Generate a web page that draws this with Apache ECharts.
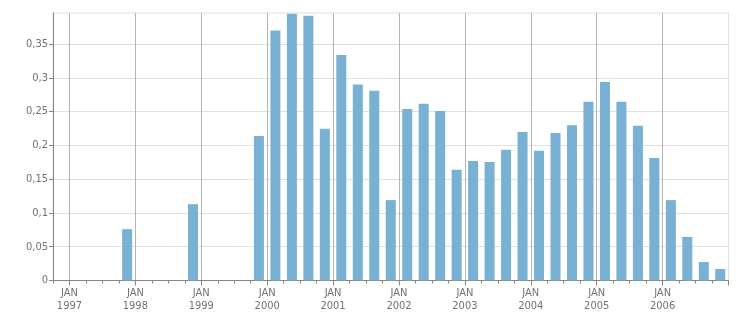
<!DOCTYPE html>
<html>
<head>
<meta charset="utf-8">
<script src="https://cdn.jsdelivr.net/npm/echarts@6/dist/echarts.min.js"></script>
<style>
html,body{margin:0;padding:0;background:#fff;}
#chart{width:751px;height:313px;}
</style>
</head>
<body>
<div id="chart"></div>
<script>
var quarters = [
  '1996-Q4',
  '1997-Q1','1997-Q2','1997-Q3','1997-Q4',
  '1998-Q1','1998-Q2','1998-Q3','1998-Q4',
  '1999-Q1','1999-Q2','1999-Q3','1999-Q4',
  '2000-Q1','2000-Q2','2000-Q3','2000-Q4',
  '2001-Q1','2001-Q2','2001-Q3','2001-Q4',
  '2002-Q1','2002-Q2','2002-Q3','2002-Q4',
  '2003-Q1','2003-Q2','2003-Q3','2003-Q4',
  '2004-Q1','2004-Q2','2004-Q3','2004-Q4',
  '2005-Q1','2005-Q2','2005-Q3','2005-Q4',
  '2006-Q1','2006-Q2','2006-Q3','2006-Q4'
];
var values = [
  0,
  0, 0, 0, 0.076,
  0, 0, 0, 0.113,
  0, 0, 0, 0.214,
  0.370, 0.395, 0.392, 0.2245,
  0.334, 0.290, 0.281, 0.119,
  0.254, 0.2615, 0.251, 0.164,
  0.177, 0.1756, 0.1934, 0.220,
  0.192, 0.2185, 0.230, 0.2645,
  0.294, 0.2645, 0.229, 0.1815,
  0.119, 0.0645, 0.0274, 0.017
];
var yTicks = [0, 0.05, 0.1, 0.15, 0.2, 0.25, 0.3, 0.35];
var yMax = 0.396;

var FONT = '"DejaVu Sans Condensed", "Liberation Sans", sans-serif';
function isJan(idx) { return /Q1$/.test(quarters[idx] || ''); }
var nYears = quarters.filter(function (q) { return /Q1$/.test(q); }).length;
var yearLineColors = [];
for (var i = 0; i < nYears; i++) yearLineColors.push('#b4b4b4');
yearLineColors.push('#e0e0e0');

var chart = echarts.init(document.getElementById('chart'), null, {renderer: 'canvas'});
chart.setOption({
  animation: false,
  grid: {left: 53, top: 13, right: 22.5, bottom: 32.5, show: true, borderColor: '#e0e0e0', borderWidth: 1, backgroundColor: 'transparent'},
  xAxis: [{
    type: 'category',
    data: quarters,
    position: 'bottom',
    boundaryGap: true,
    axisLine: {show: true, lineStyle: {color: '#858585', width: 1}},
    axisTick: {show: true, interval: 0, length: 3, lineStyle: {color: '#858585'}},
    splitLine: {show: false},
    axisLabel: {
      interval: function (idx) { return isJan(idx); },
      formatter: function (v) { return 'JAN\n' + v.slice(0, 4); },
      color: '#746f78',
      fontFamily: FONT,
      fontSize: 11,
      lineHeight: 13,
      margin: 6,
      padding: [0, 16.5, 0, 0]
    }
  }, {
    type: 'category',
    data: quarters,
    position: 'bottom',
    boundaryGap: true,
    axisLine: {show: false},
    axisTick: {show: true, interval: function (idx) { return isJan(idx); }, length: 5, lineStyle: {color: '#858585'}},
    splitLine: {show: true, interval: function (idx) { return isJan(idx); }, lineStyle: {color: yearLineColors, width: 1}},
    axisLabel: {show: false}
  }],
  yAxis: {
    type: 'value',
    min: 0,
    max: yMax,
    axisLine: {show: true, lineStyle: {color: '#858585', width: 1}},
    axisTick: {show: true, length: 4, customValues: yTicks, lineStyle: {color: '#858585'}},
    splitLine: {show: true, lineStyle: {color: '#e0e0e0', width: 1}},
    axisLabel: {
      customValues: yTicks,
      color: '#746f78',
      fontFamily: FONT,
      fontSize: 11,
      margin: 5,
      formatter: function (v) { return String(v).replace('.', ','); }
    }
  },
  series: [{
    type: 'bar',
    xAxisIndex: 0,
    data: values,
    barWidth: 10,
    itemStyle: {color: '#78b1d3'}
  }]
});
</script>
</body>
</html>
